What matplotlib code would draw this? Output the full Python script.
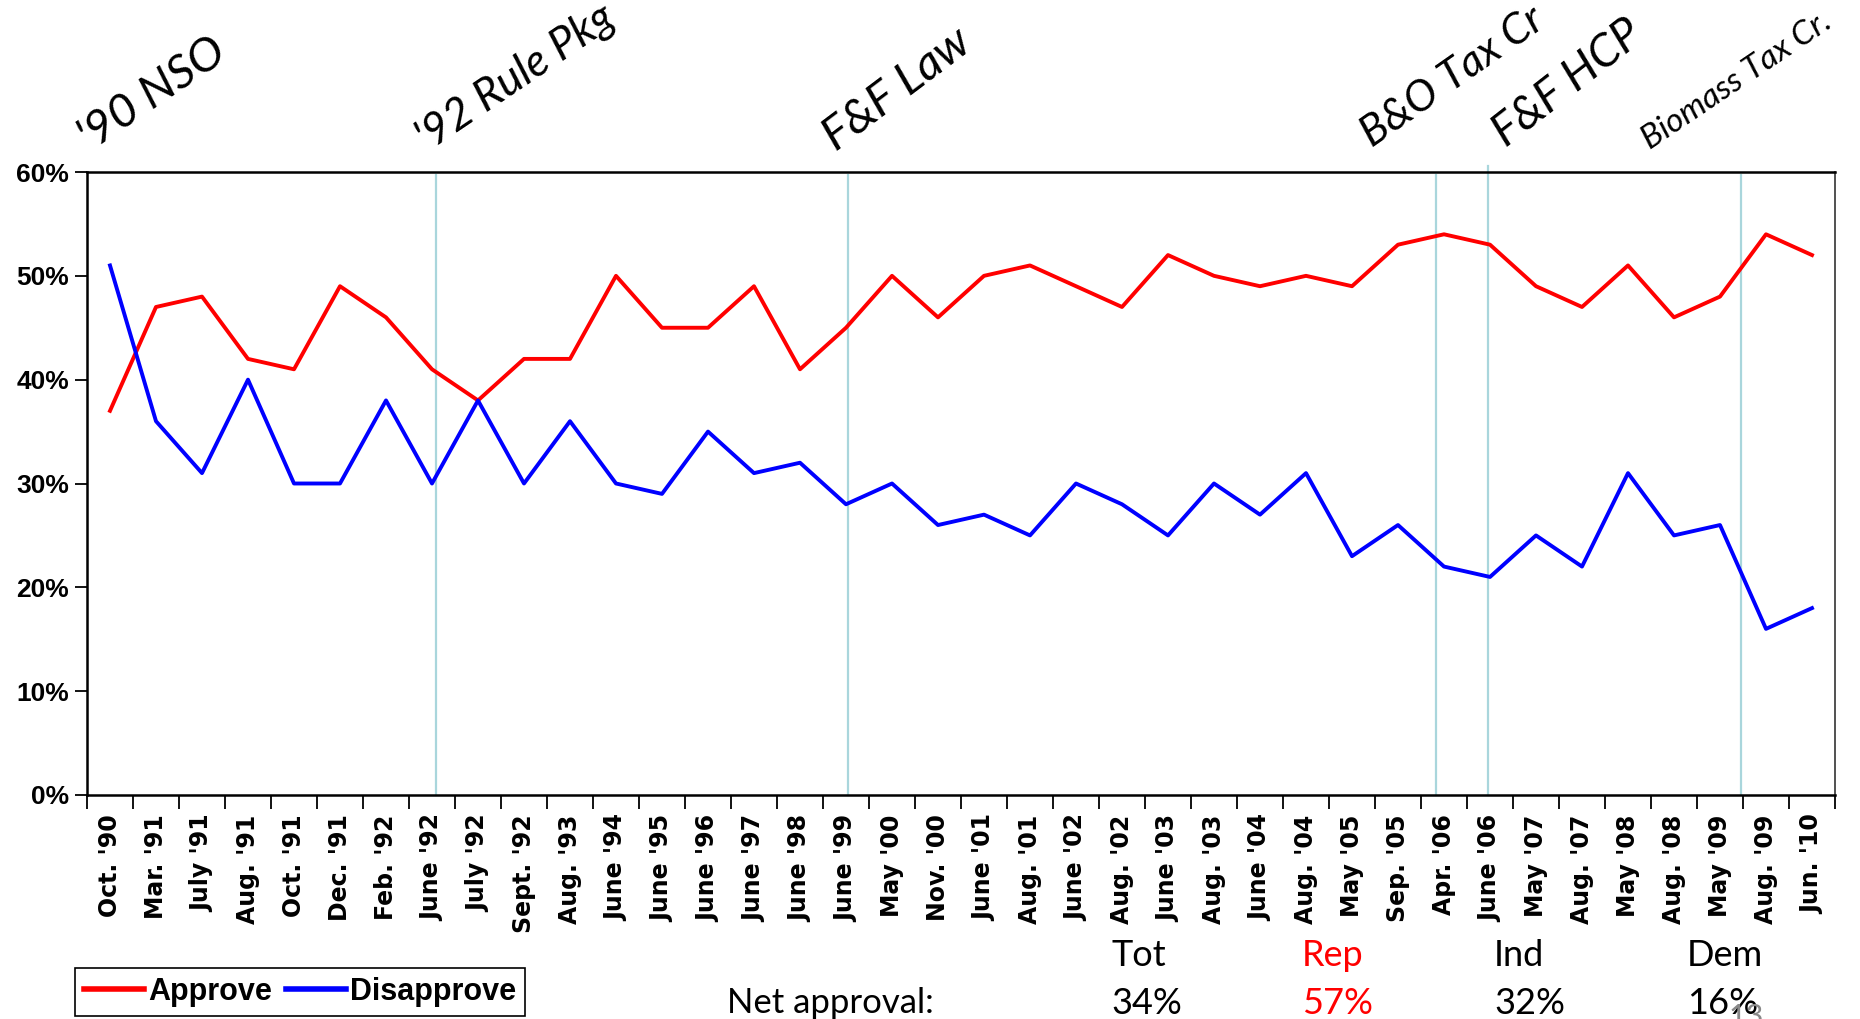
import numpy as np
import matplotlib.pyplot as plt
from matplotlib.ticker import FixedLocator, FuncFormatter

# survey dates
dates = ["Oct. '90", "Mar. '91", "July '91", "Aug. '91", "Oct. '91", "Dec. '91",
         "Feb. '92", "June '92", "July '92", "Sept. '92", "Aug. '93", "June '94",
         "June '95", "June '96", "June '97", "June '98", "June '99", "May '00",
         "Nov. '00", "June '01", "Aug. '01", "June '02", "Aug. '02", "June '03",
         "Aug. '03", "June '04", "Aug. '04", "May '05", "Sep. '05", "Apr. '06",
         "June '06", "May '07", "Aug. '07", "May '08", "Aug. '08", "May '09",
         "Aug. '09", "Jun. '10"]

approve = [37, 47, 48, 42, 41, 49, 46, 41, 38, 42, 42, 50, 45, 45, 49, 41, 45, 50,
           46, 50, 51, 49, 47, 52, 50, 49, 50, 49, 53, 54, 53, 49, 47, 51, 46, 48,
           54, 52]
disapprove = [51, 36, 31, 40, 30, 30, 38, 30, 38, 30, 36, 30, 29, 35, 31, 32, 28, 30,
              26, 27, 25, 30, 28, 25, 30, 27, 31, 23, 26, 22, 21, 25, 22, 31, 25, 26,
              16, 18]

# events (position on the date axis) and their labels
event_pos = [7.08, 16.05, 28.82, 29.95, 35.45]
event_labels = ["'90 NSO", "'92 Rule Pkg", "F&F Law", "B&O Tax Cr", "F&F HCP", "Biomass Tax Cr."]

net_groups = ["Tot", "Rep", "Ind", "Dem"]
net_values = ["34%", "57%", "32%", "16%"]

W, H = 1860, 1019
fig = plt.figure(figsize=(W / 100, H / 100), dpi=100)
ax = fig.add_axes([87 / W, 1 - 795 / H, (1835 - 87) / W, (795 - 172) / H])

x = np.arange(len(dates))
ax.plot(x, approve, color='#FF0000', lw=2.8, label='Approve', zorder=3)
ax.plot(x, disapprove, color='#0000FF', lw=2.8, label='Disapprove', zorder=3)

for i, p in enumerate(event_pos):
    ax.axvline(p, color='#A9D6DC', lw=1.6, zorder=1,
               ymax=1.01 if i == 3 else 0.995, clip_on=False)

ax.set_xlim(-0.5, len(dates) - 0.5)
ax.set_ylim(0, 60)

# ticks: marks on category borders, labels at the centre
ax.xaxis.set_major_locator(FixedLocator(x))
ax.set_xticklabels(dates, rotation=90, fontsize=17, fontweight='bold',
                   family='DejaVu Sans')
ax.xaxis.set_minor_locator(FixedLocator(np.arange(-0.5, len(dates), 1)))
ax.tick_params(axis='x', which='major', length=0, pad=14)
ax.tick_params(axis='x', which='minor', length=10, width=1.3, direction='out')

ax.set_yticks(np.arange(0, 61, 10))
ax.yaxis.set_major_formatter(FuncFormatter(lambda v, _: f"{v:.0f}%"))
ax.tick_params(axis='y', length=9, width=1.3, direction='out', pad=4)
for lab in ax.get_yticklabels():
    lab.set_fontsize(19)
    lab.set_fontweight('bold')
    lab.set_family('Liberation Sans')

for s in ['left', 'bottom', 'top']:
    ax.spines[s].set_linewidth(1.8)
ax.spines['right'].set_linewidth(1.2)
ax.spines['right'].set_color('#333333')

# event annotations, rotated
ann_xy = [(90, 152), (428, 152), (836, 152), (1372, 148), (1506, 148), (1650, 150)]
ann_size = [34, 32, 34, 31, 33, 24]
ann_rot = [34, 34, 37, 35, 38, 34]
for lab, (px, py), fs, rot in zip(event_labels, ann_xy, ann_size, ann_rot):
    fig.text(px / W, 1 - py / H, lab, fontsize=fs, family='Lato', style='italic',
             rotation=rot, rotation_mode='anchor', ha='left', va='baseline')

# legend
leg = fig.legend(loc='lower left', bbox_to_anchor=(75 / W, 3 / H), ncol=2,
                 prop={'family': 'Liberation Sans', 'weight': 'bold', 'size': 22},
                 handlelength=1.95, handletextpad=0.15, columnspacing=0.45,
                 borderpad=0.3, borderaxespad=0, fancybox=False, edgecolor='black',
                 framealpha=1)
leg.get_frame().set_linewidth(1.2)
for line in leg.get_lines():
    line.set_linewidth(4)

# net approval block
col_x = [1111, 1302, 1494, 1687]
fig.text(727 / W, 1 - 1003 / H, "Net approval:", fontsize=25, family='Lato',
         ha='left', va='center')
for g, v, cx in zip(net_groups, net_values, col_x):
    c = '#FF0000' if g == 'Rep' else 'black'
    fig.text(cx / W, 1 - 955 / H, g, fontsize=26, family='Lato', color=c,
             ha='left', va='center')
    fig.text(cx / W, 1 - 1003 / H, v, fontsize=26, family='Lato', color=c,
             ha='left', va='center')

# slide number, cut at the bottom edge
fig.text(1746 / W, 1 - 1003 / H, "13", fontsize=22, family='Lato', color='#888888',
         ha='center', va='top')

fig.savefig('out.png', dpi=100)
